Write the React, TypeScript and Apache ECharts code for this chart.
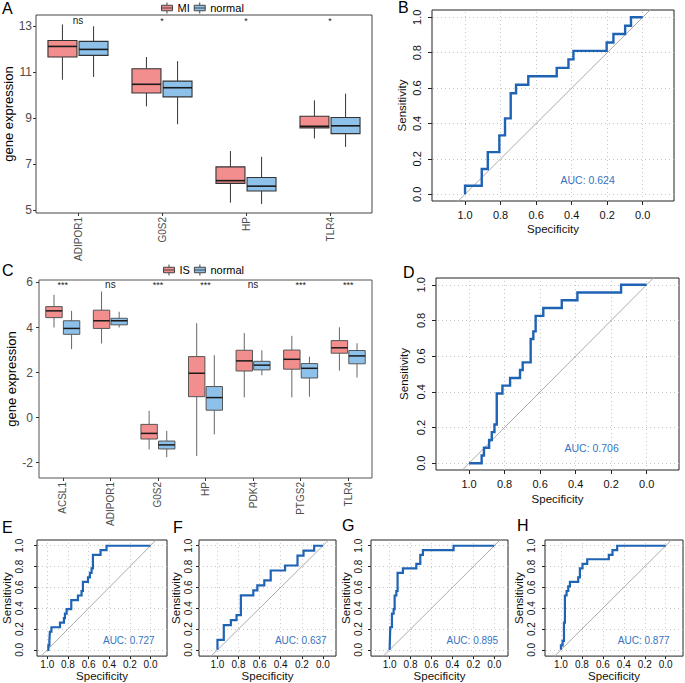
import React, { useEffect, useRef } from 'react';
import * as echarts from 'echarts';

// ---------------- data ----------------
const GENES_A = ['ADIPOR1', 'G0S2', 'HP', 'TLR4'];
const GROUPS_A = ['MI', 'normal'];
// [min, q1, median, q3, max]
const A_MI = [
  [10.68, 11.67, 12.13, 12.39, 13.09],
  [9.52, 10.1, 10.48, 11.16, 11.67],
  [5.32, 6.16, 6.28, 6.88, 7.57],
  [8.12, 8.58, 8.65, 9.09, 9.78],
];
const A_NORMAL = [
  [10.8, 11.74, 12.0, 12.35, 13.01],
  [8.74, 9.93, 10.33, 10.62, 11.49],
  [5.26, 5.83, 6.04, 6.42, 7.32],
  [7.75, 8.33, 8.67, 9.03, 10.07],
];
const A_SIG = ['ns', '*', '*', '*'];
const A_SIG_Y = 13.25;
const A_TICKS = [5, 7, 9, 11, 13];

const GENES_C = ['ACSL1', 'ADIPOR1', 'G0S2', 'HP', 'PDK4', 'PTGS2', 'TLR4'];
const GROUPS_C = ['IS', 'normal'];
const C_IS = [
  [4.0, 4.44, 4.74, 4.93, 5.45],
  [3.29, 3.96, 4.3, 4.77, 5.6],
  [-1.41, -0.95, -0.7, -0.3, 0.3],
  [-1.7, 0.93, 1.97, 2.71, 4.19],
  [0.9, 2.07, 2.52, 2.99, 3.75],
  [0.9, 2.15, 2.59, 3.0, 3.63],
  [2.09, 2.86, 3.1, 3.42, 4.01],
];
const C_NORMAL = [
  [3.04, 3.7, 3.96, 4.3, 4.74],
  [4.0, 4.12, 4.3, 4.41, 4.7],
  [-1.76, -1.39, -1.21, -1.04, -0.59],
  [-0.74, 0.33, 0.89, 1.38, 2.77],
  [1.88, 2.12, 2.33, 2.5, 2.99],
  [0.93, 1.76, 2.19, 2.4, 2.71],
  [1.78, 2.39, 2.74, 2.98, 3.3],
];
const C_SIG = ['***', 'ns', '***', '***', 'ns', '***', '***'];
const C_SIG_Y = 5.9;
const C_TICKS = [-2, 0, 2, 4, 6];

// ROC staircases: specificity where each rise happens, sensitivity after the rise
const ROC_B_SPEC = [1.0, 0.906, 0.872, 0.807, 0.775, 0.743, 0.713, 0.644, 0.484, 0.418, 0.39, 0.203, 0.165, 0.099, 0.066];
const ROC_B_SENS = [0.048, 0.143, 0.238, 0.333, 0.429, 0.571, 0.619, 0.667, 0.714, 0.762, 0.81, 0.857, 0.905, 0.952, 1.0];
const ROC_D_SPEC = [0.929, 0.916, 0.887, 0.872, 0.857, 0.844, 0.812, 0.769, 0.713, 0.698, 0.653, 0.638, 0.625, 0.582, 0.478, 0.39, 0.144];
const ROC_D_SENS = [0.043, 0.087, 0.13, 0.174, 0.217, 0.391, 0.435, 0.478, 0.522, 0.565, 0.696, 0.739, 0.826, 0.87, 0.913, 0.957, 1.0];
const ROC_E_SPEC = [0.99, 0.98, 0.975, 0.96, 0.877, 0.839, 0.829, 0.813, 0.768, 0.703, 0.668, 0.655, 0.606, 0.587, 0.571, 0.558, 0.484, 0.426];
const ROC_E_SENS = [0.043, 0.087, 0.174, 0.217, 0.261, 0.304, 0.348, 0.391, 0.478, 0.522, 0.565, 0.652, 0.696, 0.739, 0.783, 0.913, 0.957, 1.0];
const ROC_F_SPEC = [1.0, 0.94, 0.873, 0.819, 0.778, 0.66, 0.622, 0.556, 0.495, 0.359, 0.241, 0.184, 0.083];
const ROC_F_SENS = [0.095, 0.238, 0.286, 0.333, 0.524, 0.571, 0.619, 0.667, 0.762, 0.81, 0.905, 0.952, 1.0];
const ROC_G_SPEC = [0.994, 0.978, 0.962, 0.952, 0.936, 0.924, 0.873, 0.745, 0.707, 0.682, 0.389];
const ROC_G_SENS = [0.217, 0.348, 0.391, 0.522, 0.565, 0.739, 0.783, 0.826, 0.913, 0.957, 1.0];
const ROC_H_SPEC = [1.0, 0.984, 0.971, 0.962, 0.946, 0.93, 0.914, 0.835, 0.819, 0.794, 0.749, 0.543, 0.508, 0.463];
const ROC_H_SENS = [0.043, 0.087, 0.261, 0.522, 0.565, 0.609, 0.652, 0.696, 0.783, 0.826, 0.87, 0.913, 0.957, 1.0];
const AUC_VALUES = [0.624, 0.706, 0.727, 0.637, 0.895, 0.877];
const ROC_TICKS = [0, 0.2, 0.4, 0.6, 0.8, 1.0];

// ---------------- styles / layout ----------------
const FONT = '"Liberation Sans", Arial, Helvetica, sans-serif';
const RED = '#F28E8E';
const BLUE = '#8EC1EA';
const ROC_BLUE = '#1F63B5';
const AUC_BLUE = '#3673C2';
const BOX_W = 0.345;
const BOX_OFF = 0.185;
const LEGEND_ICON = 'path://M0,3H12V9H0Z M0,6H12 M6,0V3 M6,9V12';

function stairs(xs: number[], ys: number[]) {
  const pts: number[][] = [[1, 0]];
  let y = 0;
  xs.forEach((x, i) => {
    pts.push([x, y]);
    y = ys[i];
    pts.push([x, y]);
  });
  pts.push([0, y]);
  return pts;
}

function boxSeries(name: string, gi: number, rows: number[][], fill: string, side: number, stroke: string, whisker: string, lw: number) {
  return {
    type: 'custom',
    name,
    xAxisIndex: gi,
    yAxisIndex: gi,
    silent: true,
    z: 2,
    data: rows.map((r, i) => [i, ...r]),
    encode: { x: 0, y: [1, 2, 3, 4, 5] },
    renderItem: (params: any, api: any) => {
      const i = api.value(0);
      const band = api.size([1, 0])[0];
      const cx = api.coord([i, api.value(3)])[0] + side * BOX_OFF * band;
      const w = BOX_W * band;
      const ys = [1, 2, 3, 4, 5].map((d) => api.coord([i, api.value(d)])[1]);
      const [yMin, yQ1, yMed, yQ3, yMax] = ys;
      return {
        type: 'group',
        children: [
          { type: 'line', shape: { x1: cx, y1: yMax, x2: cx, y2: yQ3 }, style: { stroke: whisker, lineWidth: lw } },
          { type: 'line', shape: { x1: cx, y1: yQ1, x2: cx, y2: yMin }, style: { stroke: whisker, lineWidth: lw } },
          { type: 'rect', shape: { x: cx - w / 2, y: yQ3, width: w, height: yQ1 - yQ3 }, style: { fill, stroke, lineWidth: lw } },
          { type: 'line', shape: { x1: cx - w / 2, y1: yMed, x2: cx + w / 2, y2: yMed }, style: { stroke: '#1a1a1a', lineWidth: lw + 0.5 } },
        ],
      };
    },
  };
}

function textSeries(gi: number, points: number[][], texts: string[], fontSize: number, color: string) {
  return {
    type: 'custom',
    xAxisIndex: gi,
    yAxisIndex: gi,
    silent: true,
    z: 4,
    data: points,
    encode: { x: 0, y: 1 },
    renderItem: (params: any, api: any) => {
      const p = api.coord([api.value(0), api.value(1)]);
      const t = texts[params.dataIndex];
      return {
        type: 'text',
        x: p[0],
        y: p[1],
        style: {
          text: t,
          fontSize: t.indexOf('*') >= 0 ? fontSize - 1 : fontSize,
          fontFamily: FONT,
          fill: color,
          align: 'center',
          verticalAlign: 'middle',
        },
      };
    },
  };
}

const BOX_PANELS = [
  {
    gi: 0, genes: GENES_A, groups: GROUPS_A, rows: [A_MI, A_NORMAL], sig: A_SIG, sigY: A_SIG_Y, ticks: A_TICKS,
    grid: { left: 36, top: 15, width: 336, height: 198 }, y: [4.87, 13.5], nameGap: 11, yMargin: 4,
    legend: { left: 161, top: 2 }, stroke: '#333', whisker: '#444', lw: 1.1, borderColor: '#444',
  },
  {
    gi: 2, genes: GENES_C, groups: GROUPS_C, rows: [C_IS, C_NORMAL], sig: C_SIG, sigY: C_SIG_Y, ticks: C_TICKS,
    grid: { left: 39, top: 280, width: 333, height: 198 }, y: [-2.68, 6.11], nameGap: 14, yMargin: 6,
    legend: { left: 163, top: 264 }, stroke: '#555', whisker: '#666', lw: 1, borderColor: '#555',
  },
];

const ROC_PANELS = [
  { gi: 1, xs: ROC_B_SPEC, ys: ROC_B_SENS, auc: AUC_VALUES[0], grid: { left: 432, top: 10, width: 242, height: 191 }, x: [-0.176, 1.186], y: [-0.038, 1.041], fs: 11, nfs: 11.5, tick: 4, xm: 8, ym: 10, xng: 22, yng: 24, aucAt: [0.31, 0.08] },
  { gi: 3, xs: ROC_D_SPEC, ys: ROC_D_SENS, auc: AUC_VALUES[1], grid: { left: 436, top: 278, width: 243, height: 192 }, x: [-0.182, 1.186], y: [-0.038, 1.038], fs: 11, nfs: 11.5, tick: 4, xm: 8, ym: 10, xng: 23, yng: 26, aucAt: [0.31, 0.085] },
  { gi: 4, xs: ROC_E_SPEC, ys: ROC_E_SENS, auc: AUC_VALUES[2], grid: { left: 36, top: 540, width: 131, height: 119 }, x: [-0.16, 1.1], y: [-0.06, 1.055], fs: 10, nfs: 11.5, tick: 3, xm: 3, ym: 13, xng: 10, yng: 24, aucAt: [0.21, 0.09] },
  { gi: 5, xs: ROC_F_SPEC, ys: ROC_F_SENS, auc: AUC_VALUES[3], grid: { left: 199, top: 540, width: 137, height: 119 }, x: [-0.124, 1.175], y: [-0.06, 1.055], fs: 10, nfs: 11.5, tick: 3, xm: 3, ym: 6, xng: 10, yng: 15, aucAt: [0.21, 0.09] },
  { gi: 6, xs: ROC_G_SPEC, ys: ROC_G_SENS, auc: AUC_VALUES[4], grid: { left: 371, top: 540, width: 137, height: 119 }, x: [-0.131, 1.178], y: [-0.06, 1.055], fs: 10, nfs: 11.5, tick: 3, xm: 3, ym: 8, xng: 10, yng: 15, aucAt: [0.21, 0.09] },
  { gi: 7, xs: ROC_H_SPEC, ys: ROC_H_SENS, auc: AUC_VALUES[5], grid: { left: 545, top: 540, width: 138, height: 119 }, x: [-0.165, 1.152], y: [-0.06, 1.055], fs: 10, nfs: 11.5, tick: 3, xm: 3, ym: 9, xng: 10, yng: 16, aucAt: [0.21, 0.09] },
];

const PANEL_LETTERS = [
  { t: 'A', x: 2, y: 0 },
  { t: 'B', x: 398, y: -1 },
  { t: 'C', x: 2, y: 262 },
  { t: 'D', x: 403, y: 264 },
  { t: 'E', x: 2, y: 519 },
  { t: 'F', x: 173, y: 519 },
  { t: 'G', x: 342, y: 517 },
  { t: 'H', x: 517, y: 517 },
];

function buildOption() {
  const grids: any[] = [];
  const xAxes: any[] = [];
  const yAxes: any[] = [];
  const series: any[] = [];
  const legends: any[] = [];

  BOX_PANELS.forEach((p) => {
    grids[p.gi] = { ...p.grid, show: true, borderColor: p.borderColor, borderWidth: 1, backgroundColor: 'rgba(0,0,0,0)' };
    xAxes[p.gi] = {
      gridIndex: p.gi, type: 'category', data: p.genes, boundaryGap: true,
      axisLine: { show: false, onZero: false },
      axisTick: { show: true, alignWithLabel: true, length: 3, lineStyle: { color: '#333' } },
      axisLabel: { rotate: 90, fontSize: 10, color: '#4d4d4d', margin: 4, fontFamily: FONT },
      splitLine: { show: false },
    };
    yAxes[p.gi] = {
      gridIndex: p.gi, type: 'value', min: p.y[0], max: p.y[1],
      axisLine: { show: false, onZero: false },
      axisTick: { show: true, length: 3, customValues: p.ticks, lineStyle: { color: '#333' } },
      axisLabel: { customValues: p.ticks, fontSize: 12, color: '#4d4d4d', margin: p.yMargin, fontFamily: FONT },
      splitLine: { show: false },
      name: 'gene expression', nameLocation: 'middle', nameGap: p.nameGap,
      nameTextStyle: { fontSize: 13, color: '#000', fontFamily: FONT },
    };
    series.push(boxSeries(p.groups[0], p.gi, p.rows[0], RED, -1, p.stroke, p.whisker, p.lw));
    series.push(boxSeries(p.groups[1], p.gi, p.rows[1], BLUE, 1, p.stroke, p.whisker, p.lw));
    series.push(textSeries(p.gi, p.sig.map((_, i) => [i, p.sigY]), p.sig, 10, '#222'));
    legends.push({
      left: p.legend.left, top: p.legend.top, orient: 'horizontal', padding: 0,
      itemWidth: 11, itemHeight: 11, itemGap: 4, selectedMode: false,
      textStyle: { fontSize: 11, color: '#000', fontFamily: FONT },
      data: [
        { name: p.groups[0], icon: LEGEND_ICON, itemStyle: { color: RED, borderColor: '#444', borderWidth: 1 } },
        { name: p.groups[1], icon: LEGEND_ICON, itemStyle: { color: BLUE, borderColor: '#444', borderWidth: 1 } },
      ],
    });
  });

  ROC_PANELS.forEach((p) => {
    grids[p.gi] = { ...p.grid, show: true, borderColor: '#222', borderWidth: 1, backgroundColor: 'rgba(0,0,0,0)' };
    xAxes[p.gi] = {
      gridIndex: p.gi, type: 'value', inverse: true, min: p.x[0], max: p.x[1],
      axisLine: { show: false, onZero: false },
      axisTick: { show: true, length: p.tick, customValues: ROC_TICKS, lineStyle: { color: '#222' } },
      axisLabel: { customValues: ROC_TICKS, formatter: (v: number) => v.toFixed(1), fontSize: p.fs, color: '#111', margin: p.xm, fontFamily: FONT },
      splitLine: { show: false },
      name: 'Specificity', nameLocation: 'middle', nameGap: p.xng,
      nameTextStyle: { fontSize: p.nfs, color: '#111', fontFamily: FONT },
    };
    yAxes[p.gi] = {
      gridIndex: p.gi, type: 'value', min: p.y[0], max: p.y[1],
      axisLine: { show: false, onZero: false },
      axisTick: { show: true, length: p.tick, customValues: ROC_TICKS, lineStyle: { color: '#222' } },
      axisLabel: { customValues: ROC_TICKS, rotate: 90, formatter: (v: number) => v.toFixed(1), fontSize: p.fs, color: '#111', margin: p.ym, fontFamily: FONT },
      splitLine: { show: false },
      name: 'Sensitivity', nameLocation: 'middle', nameGap: p.yng,
      nameTextStyle: { fontSize: p.nfs, color: '#111', fontFamily: FONT },
    };
    series.push({
      type: 'line', xAxisIndex: p.gi, yAxisIndex: p.gi, silent: true, symbol: 'none', z: 1,
      data: [[p.x[1], 1 - p.x[1]], [p.x[0], 1 - p.x[0]]],
      lineStyle: { color: '#ababab', width: 1 }, clip: true,
      markLine: {
        silent: true, symbol: ['none', 'none'], label: { show: false }, z: 1,
        lineStyle: { type: [1, 3], color: '#c8c8c8', width: 1 },
        data: [...ROC_TICKS.map((t) => ({ xAxis: t })), ...ROC_TICKS.map((t) => ({ yAxis: t }))],
      },
    });
    series.push({
      type: 'line', xAxisIndex: p.gi, yAxisIndex: p.gi, silent: true, symbol: 'none', z: 3,
      data: stairs(p.xs, p.ys),
      lineStyle: { color: ROC_BLUE, width: p.fs === 11 ? 2.4 : 2.2, join: 'miter' },
      clip: false,
    });
    series.push(textSeries(p.gi, [p.aucAt], ['AUC: ' + p.auc.toFixed(3)], p.fs === 11 ? 10.5 : 10, AUC_BLUE));
  });

  return {
    animation: false,
    backgroundColor: '#fff',
    textStyle: { fontFamily: FONT },
    grid: grids,
    xAxis: xAxes,
    yAxis: yAxes,
    legend: legends,
    series,
    graphic: PANEL_LETTERS.map((l) => ({
      type: 'text', left: l.x, top: l.y, silent: true,
      style: { text: l.t, fontSize: 16, fontFamily: FONT, fill: '#000' },
    })),
  };
}

export default function App() {
  const ref = useRef<HTMLDivElement>(null);
  useEffect(() => {
    if (!ref.current) return;
    const chart = echarts.init(ref.current, undefined, { renderer: 'svg' });
    chart.setOption(buildOption() as any);
    return () => chart.dispose();
  }, []);
  return (
    <div
      ref={ref}
      style={{ position: 'fixed', left: 0, top: 0, width: 685, height: 683, background: '#fff' }}
    />
  );
}
